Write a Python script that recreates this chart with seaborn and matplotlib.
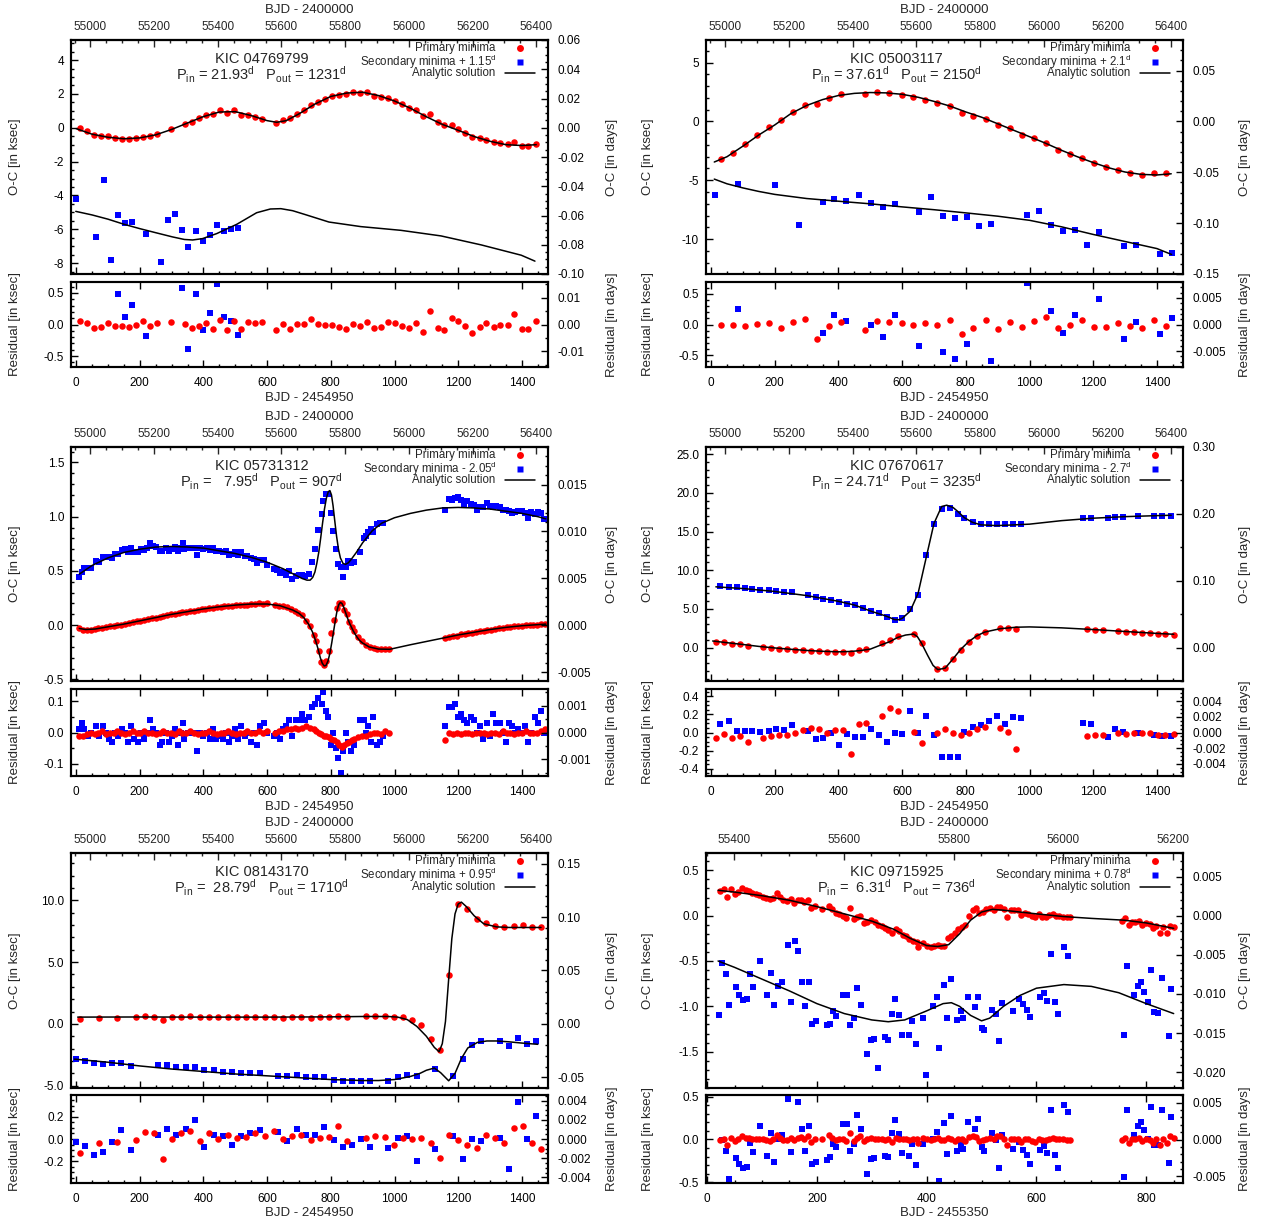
import numpy as np
import pandas as pd
import matplotlib
matplotlib.use("Agg")
import matplotlib.pyplot as plt
import seaborn as sns
from matplotlib.ticker import MultipleLocator, FuncFormatter, AutoMinorLocator

sns.set_theme(style="ticks")
plt.rcParams['font.family'] = ['Liberation Sans', 'DejaVu Sans']
plt.rcParams['mathtext.fontset'] = 'custom'
plt.rcParams['mathtext.rm'] = 'Liberation Sans'
plt.rcParams['mathtext.it'] = 'Liberation Sans:italic'
plt.rcParams['mathtext.bf'] = 'Liberation Sans:bold'
plt.rcParams['axes.unicode_minus'] = False

KSEC_PER_DAY = 86.4
RED = '#ff0000'
BLUE = '#0000ff'

# ---------------- KIC 04769799 ----------------
p1_prim_t = [13, 34, 57, 79, 101, 123, 145, 167, 189, 211,
             233, 255, 299, 342, 365, 386, 409, 430, 453, 474,
             497, 518, 541, 562, 585, 629, 650, 672, 694, 716,
             738, 760, 782, 804, 826, 848, 870, 892, 914, 936,
             958, 980, 1003, 1024, 1047, 1068, 1090, 1112, 1135, 1156,
             1179, 1200, 1222, 1244, 1267, 1288, 1311, 1332, 1355, 1376,
             1399, 1420, 1443]
p1_prim_oc = [0.0, -0.2, -0.41, -0.49, -0.51, -0.59, -0.67, -0.67, -0.63, -0.53,
              -0.51, -0.37, -0.1, 0.22, 0.33, 0.57, 0.76, 0.8, 1.02, 0.86,
              1.02, 0.75, 0.75, 0.61, 0.51, 0.29, 0.47, 0.57, 0.82, 1.04,
              1.35, 1.53, 1.71, 1.88, 1.94, 1.98, 2.1, 2.06, 2.1, 1.9,
              1.8, 1.73, 1.57, 1.39, 1.16, 1.06, 0.71, 0.84, 0.35, 0.14,
              0.16, -0.06, -0.29, -0.55, -0.61, -0.71, -0.82, -0.9, -0.98, -0.84,
              -1.1, -1.1, -0.94]
p1_prim_res = [0.05, 0.02, -0.05, -0.04, 0.02, -0.03, -0.03, -0.04, -0.01, 0.05,
               -0.02, 0.03, 0.04, 0.01, -0.06, -0.02, 0.03, -0.07, 0.07, -0.09,
               0.06, -0.07, 0.04, 0.03, 0.04, -0.09, 0.01, -0.07, 0.01, 0.01,
               0.08, 0.01, -0.01, -0.01, -0.04, -0.07, 0.01, -0.02, 0.04, -0.05,
               -0.04, 0.04, 0.02, -0.02, -0.06, 0.02, -0.12, 0.21, -0.06, -0.08,
               0.1, 0.05, -0.03, -0.13, -0.04, 0.02, -0.04, -0.01, 0.0, 0.16,
               -0.07, -0.07, 0.05]
p1_sec_t = [-1, 64, 87, 110, 131, 153, 175, 219, 267, 288,
            311, 332, 353, 376, 397, 420, 442, 464, 486, 507]
p1_sec_oc = [-4.18, -6.45, -3.1, -7.8, -5.16, -5.63, -5.57, -6.27, -7.92, -5.45,
             -5.1, -6.04, -7.04, -6.1, -6.69, -6.33, -5.75, -6.1, -5.98, -5.92]
p1_secres_t = [131, 153, 175, 219, 332, 353, 376, 397, 420, 442, 464, 486, 507]
p1_secres = [0.48, 0.12, 0.31, -0.18, 0.57, -0.39, 0.49, -0.09, 0.18, 0.64, 0.12, 0.05, -0.17]
p1_fitp_t = [0, 50, 100, 150, 200, 250, 300, 350, 400, 450, 500, 550, 600, 630, 660,
             700, 750, 800, 850, 900, 950, 1000, 1050, 1100, 1150, 1200, 1250, 1300,
             1350, 1400, 1445]
p1_fitp = [-0.05, -0.38, -0.56, -0.65, -0.6, -0.42, -0.1, 0.28, 0.66, 0.93, 0.95, 0.72,
           0.42, 0.32, 0.42, 0.82, 1.4, 1.85, 2.05, 2.1, 1.9, 1.58, 1.15, 0.65, 0.2,
           -0.15, -0.52, -0.8, -1.0, -1.05, -1.0]
p1_fits_t = [-1, 50, 100, 150, 200, 250, 303, 340, 366, 397, 442, 505, 567, 610, 643,
             680, 718, 794, 894, 1020, 1146, 1272, 1398, 1441]
p1_fits = [-4.94, -5.15, -5.4, -5.7, -5.96, -6.2, -6.45, -6.6, -6.63, -6.55, -6.25,
           -5.7, -5.02, -4.8, -4.78, -4.9, -5.12, -5.57, -5.84, -6.06, -6.39, -6.92,
           -7.53, -7.88]

# ---------------- KIC 05003117 ----------------
p2_prim_t = [32, 70, 108, 145, 182, 220, 258, 295, 333, 371,
             409, 484, 522, 560, 598, 635, 673, 711, 749, 787,
             824, 862, 900, 938, 975, 1013, 1051, 1089, 1127, 1164,
             1202, 1240, 1278, 1315, 1353, 1391, 1429]
p2_prim_oc = [-3.22, -2.66, -1.95, -1.19, -0.45, 0.14, 0.82, 1.41, 1.47, 1.98,
              2.29, 2.34, 2.49, 2.4, 2.26, 2.06, 1.84, 1.55, 1.33, 0.73,
              0.48, 0.23, -0.34, -0.59, -1.13, -1.44, -1.84, -2.46, -2.8, -3.11,
              -3.56, -3.9, -4.15, -4.35, -4.52, -4.41, -4.41]
p2_prim_res = [0.0, -0.01, -0.02, 0.01, 0.02, -0.05, 0.04, 0.09, -0.23, -0.03,
               0.04, -0.09, 0.05, 0.04, 0.02, -0.01, 0.02, 0.0, 0.08, -0.16,
               -0.05, 0.07, -0.08, 0.04, -0.04, 0.05, 0.12, -0.06, -0.01, 0.07,
               -0.04, -0.04, 0.02, -0.03, -0.05, 0.07, -0.02]
p2_sec_t = [11, 86, 200, 277, 350, 387, 425, 463, 502, 540,
            577, 653, 691, 729, 766, 803, 842, 880, 993, 1031,
            1067, 1105, 1143, 1181, 1218, 1297, 1333, 1409, 1446]
p2_sec_oc = [-6.27, -5.28, -5.42, -8.81, -6.81, -6.61, -6.78, -6.21, -6.95, -7.29,
             -7.03, -7.71, -6.44, -8.05, -8.22, -8.14, -8.9, -8.73, -7.97, -7.63,
             -8.76, -9.32, -9.21, -10.51, -9.41, -10.62, -10.48, -11.27, -11.19]
p2_secres_t = [86, 350, 387, 425, 502, 540, 577, 653, 729, 766, 803, 880, 993, 1067,
               1105, 1143, 1218, 1297, 1333, 1409, 1446]
p2_secres = [0.25, -0.14, 0.16, 0.05, -0.01, -0.21, 0.16, -0.35, -0.45, -0.56, -0.31,
             -0.59, 0.68, 0.22, -0.14, 0.16, 0.41, -0.24, 0.04, -0.15, 0.11]
p2_fitp_t = [10, 50, 100, 150, 200, 250, 300, 350, 400, 450, 500, 550, 600, 650, 700,
             750, 800, 850, 900, 950, 1000, 1050, 1100, 1150, 1200, 1250, 1300, 1350,
             1400, 1445]
p2_fitp = [-3.45, -3.0, -2.1, -1.15, -0.3, 0.65, 1.35, 1.85, 2.2, 2.38, 2.45, 2.42, 2.3,
           2.05, 1.7, 1.3, 0.8, 0.35, -0.2, -0.75, -1.3, -1.85, -2.45, -3.0, -3.5, -3.95,
           -4.3, -4.5, -4.55, -4.45]
p2_fits_t = [10, 50, 100, 150, 200, 300, 400, 500, 600, 700, 800, 900, 1000, 1100,
             1200, 1300, 1400, 1446]
p2_fits = [-4.9, -5.3, -5.65, -5.95, -6.2, -6.55, -6.78, -7.0, -7.26, -7.5, -7.77, -8.05,
           -8.4, -8.95, -9.6, -10.2, -10.8, -11.3]

# ---------------- KIC 05731312 ----------------
p3_prim_t = [10, 22, 34, 46, 58, 70, 82, 94, 106, 118,
             130, 142, 154, 166, 178, 190, 202, 214, 226, 238,
             250, 262, 274, 286, 298, 310, 322, 334, 346, 358,
             370, 382, 394, 406, 418, 430, 442, 454, 466, 478,
             490, 502, 514, 526, 538, 550, 562, 574, 586, 598,
             626, 638, 650, 662, 674, 686, 698, 710, 722, 734,
             746, 754, 762, 770, 778, 786, 794, 802, 810, 818,
             826, 834, 842, 850, 858, 866, 874, 886, 898, 910,
             922, 934, 946, 958, 970, 982,
             1160, 1172, 1184, 1196, 1208, 1220, 1232, 1244, 1256, 1268,
             1280, 1292, 1304, 1316, 1328, 1340, 1352, 1364, 1376, 1388,
             1400, 1412, 1424, 1436, 1448, 1460, 1472]
p3_prim_oc = [-0.03, -0.04, -0.04, -0.04, -0.035, -0.03, -0.025, -0.02, -0.01, -0.005,
              0.0, 0.005, 0.015, 0.02, 0.025, 0.035, 0.04, 0.05, 0.055, 0.065,
              0.07, 0.075, 0.085, 0.09, 0.1, 0.105, 0.11, 0.12, 0.125, 0.13,
              0.135, 0.14, 0.145, 0.15, 0.155, 0.16, 0.165, 0.17, 0.175, 0.18,
              0.18, 0.185, 0.19, 0.19, 0.19, 0.195, 0.195, 0.2, 0.195, 0.2,
              0.19, 0.18, 0.175, 0.165, 0.15, 0.13, 0.11, 0.09, 0.04, -0.01,
              -0.09, -0.15, -0.24, -0.34, -0.37, -0.33, -0.24, -0.07, 0.05, 0.16,
              0.2, 0.2, 0.14, 0.1, 0.03, -0.02, -0.05, -0.11, -0.15, -0.18,
              -0.2, -0.21, -0.215, -0.22, -0.22, -0.22,
              -0.12, -0.11, -0.1, -0.095, -0.085, -0.08, -0.075, -0.07, -0.06, -0.055,
              -0.05, -0.045, -0.04, -0.035, -0.03, -0.025, -0.02, -0.015, -0.01, -0.01,
              -0.005, 0.0, 0.0, 0.005, 0.005, 0.01, 0.015]
p3_prim_res = [-0.01, -0.01, -0.005, 0.0, -0.005, 0.0, 0.005, -0.005, 0.0, 0.0,
               0.005, 0.0, -0.005, 0.0, 0.005, 0.0, 0.0, 0.005, 0.0, 0.0,
               -0.005, 0.0, 0.005, 0.0, 0.0, -0.005, 0.005, 0.0, 0.0, 0.005,
               0.0, -0.005, 0.0, 0.0, 0.005, 0.0, -0.005, 0.0, 0.0, 0.005,
               0.0, -0.005, 0.0, 0.0, 0.005, 0.0, 0.0, 0.005, 0.0, 0.005,
               0.0, 0.005, 0.005, 0.01, 0.01, 0.015, 0.01, 0.015, 0.02, 0.015,
               0.01, 0.005, 0.0, -0.005, -0.01, -0.01, -0.015, -0.02, -0.025, -0.03,
               -0.04, -0.045, -0.04, -0.035, -0.03, -0.025, -0.02, -0.015, -0.01, -0.01,
               -0.005, 0.0, 0.0, -0.005, 0.005, 0.0,
               -0.025, 0.0, -0.005, 0.0, -0.005, 0.0, 0.0, -0.005, 0.0, 0.0,
               0.0, -0.005, 0.0, 0.0, -0.005, 0.005, 0.0, 0.0, -0.005, 0.0,
               0.0, 0.005, 0.0, 0.0, 0.0, 0.005, 0.01]
p3_sec_t = [9, 17, 25, 36, 46, 64, 72, 83, 93, 103,
            113, 123, 133, 143, 154, 163, 173, 183, 193, 203,
            212, 222, 231, 241, 251, 262, 270, 281, 291, 301,
            311, 320, 330, 337, 340, 350, 359, 370, 380, 390,
            400, 410, 419, 429, 439, 450, 460, 470, 479, 489,
            499, 509, 519, 530, 538, 549, 559, 569, 579, 589,
            599, 620, 630, 640, 650, 660, 670, 679, 690, 700,
            710, 720, 730, 740, 750, 761, 771, 775, 785, 790,
            800, 806, 817, 823, 833, 839, 849, 855, 863, 872,
            893, 903, 912, 918, 926, 933, 944, 954, 964,
            1159, 1170, 1180, 1190, 1200, 1210, 1219, 1229, 1239, 1250,
            1260, 1270, 1279, 1289, 1299, 1309, 1319, 1330, 1340, 1350,
            1359, 1369, 1379, 1389, 1399, 1409, 1419, 1430, 1440, 1450,
            1460, 1470]
p3_sec_oc = [0.44, 0.49, 0.53, 0.53, 0.53, 0.59, 0.58, 0.63, 0.63, 0.63,
             0.62, 0.66, 0.66, 0.69, 0.70, 0.67, 0.71, 0.67, 0.67, 0.70,
             0.69, 0.71, 0.76, 0.73, 0.72, 0.68, 0.68, 0.71, 0.68, 0.70,
             0.72, 0.68, 0.71, 0.76, 0.70, 0.71, 0.71, 0.71, 0.65, 0.71,
             0.70, 0.71, 0.69, 0.71, 0.68, 0.68, 0.67, 0.68, 0.65, 0.66,
             0.67, 0.65, 0.67, 0.64, 0.64, 0.62, 0.61, 0.57, 0.60, 0.60,
             0.55, 0.52, 0.51, 0.48, 0.49, 0.46, 0.50, 0.43, 0.45, 0.46,
             0.46, 0.45, 0.47, 0.58, 0.70, 0.88, 1.02, 1.14, 1.21, 1.21,
             1.03, 0.87, 0.70, 0.56, 0.54, 0.44, 0.54, 0.59, 0.57, 0.58,
             0.67, 0.80, 0.82, 0.86, 0.89, 0.86, 0.93, 0.94, 0.94,
             1.06, 1.16, 1.15, 1.17, 1.18, 1.15, 1.12, 1.14, 1.12, 1.11,
             1.06, 1.09, 1.09, 1.13, 1.10, 1.09, 1.10, 1.09, 1.06, 1.06,
             1.05, 1.03, 1.04, 1.05, 1.05, 1.03, 0.99, 1.04, 1.02, 1.04,
             1.03, 0.98]
p3_sec_res = [0.01, 0.03, 0.01, -0.01, 0.0, 0.02, -0.01, 0.02, 0.0, -0.02,
              -0.03, 0.0, -0.01, 0.01, 0.0, -0.03, 0.02, -0.02, -0.03, 0.0,
              -0.02, 0.0, 0.04, 0.01, 0.0, -0.04, -0.03, 0.0, -0.03, -0.01,
              0.01, -0.04, 0.0, 0.03, -0.02, 0.0, 0.0, 0.0, -0.06, 0.0,
              -0.01, 0.0, -0.02, 0.01, -0.02, -0.01, -0.02, 0.0, -0.03, -0.01,
              0.01, -0.02, 0.02, -0.01, 0.0, -0.03, 0.0, -0.04, 0.02, 0.03,
              0.0, -0.01, 0.0, -0.02, 0.01, 0.02, 0.04, -0.01, 0.04, 0.04,
              0.06, 0.04, 0.05, 0.08, 0.09, 0.11, 0.09, 0.13, 0.07, 0.05,
              -0.04, 0.0, -0.05, -0.08, -0.13, -0.06, 0.0, -0.03, -0.06, -0.04,
              0.04, 0.04, 0.0, 0.02, -0.03, 0.05, -0.04, -0.03, -0.01,
              0.02, 0.08, 0.08, 0.09, 0.05, 0.06, 0.04, 0.03, 0.05, 0.04,
              0.0, 0.02, -0.02, 0.03, -0.01, 0.06, 0.03, 0.03, 0.0, -0.03,
              0.03, 0.02, 0.0, 0.01, 0.0, 0.02, -0.03, 0.0, 0.05, 0.03,
              0.07, 0.0]
p3_fitp_t = [10, 30, 60, 100, 150, 200, 250, 300, 350, 400, 450, 500, 550, 600, 640,
             680, 700, 715, 730, 742, 752, 760, 767, 773, 779, 785, 791, 797, 803,
             809, 815, 820, 825, 830, 835, 840, 846, 853, 860, 870, 880, 890, 900,
             920, 950, 985, 1050, 1100, 1150, 1200, 1250, 1300, 1350, 1400, 1475]
p3_fitp = [-0.03, -0.04, -0.035, -0.015, 0.01, 0.04, 0.07, 0.1, 0.125, 0.15, 0.17, 0.185,
           0.195, 0.195, 0.18, 0.14, 0.11, 0.07, 0.01, -0.06, -0.14, -0.22, -0.3, -0.35,
           -0.375, -0.37, -0.33, -0.26, -0.16, -0.05, 0.06, 0.14, 0.19, 0.21, 0.2, 0.17,
           0.12, 0.06, 0.01, -0.05, -0.1, -0.14, -0.165, -0.2, -0.22, -0.222, -0.18,
           -0.15, -0.12, -0.09, -0.065, -0.04, -0.02, -0.005, 0.01]
p3_fits_t = [10, 50, 100, 150, 200, 250, 300, 350, 400, 450, 500, 550, 600, 650, 690,
             710, 725, 735, 743, 750, 756, 762, 768, 774, 780, 786, 792, 797, 802, 807,
             812, 818, 824, 830, 838, 846, 855, 865, 880, 900, 930, 960, 1000, 1050,
             1100, 1150, 1200, 1250, 1300, 1350, 1400, 1450, 1475]
p3_fits = [0.47, 0.55, 0.62, 0.67, 0.7, 0.72, 0.725, 0.72, 0.71, 0.685, 0.66, 0.625, 0.58,
           0.52, 0.46, 0.43, 0.415, 0.415, 0.44, 0.49, 0.57, 0.67, 0.8, 0.94, 1.07, 1.17,
           1.23, 1.24, 1.2, 1.1, 0.97, 0.82, 0.7, 0.62, 0.57, 0.56, 0.575, 0.61, 0.67,
           0.76, 0.87, 0.94, 0.99, 1.03, 1.06, 1.08, 1.085, 1.08, 1.07, 1.05, 1.03, 1.0,
           0.98]

# ---------------- KIC 07670617 ----------------
p4_prim_t = [14, 40, 65, 90, 115, 163, 188, 213, 239, 264,
             288, 313, 338, 363, 388, 413, 438, 463, 488, 536,
             561, 586, 636, 661, 710, 735, 759, 784, 809, 834,
             859, 908, 933, 958, 1180, 1205, 1230, 1278, 1303, 1328,
             1353, 1378, 1403, 1427, 1453]
p4_prim_oc = [0.77, 0.69, 0.47, 0.43, 0.26, 0.09, -0.04, -0.13, -0.17, -0.26,
              -0.34, -0.43, -0.47, -0.52, -0.56, -0.56, -0.73, -0.3, -0.17, 0.56,
              1.03, 1.55, 1.76, 0.56, -2.79, -2.62, -1.5, -0.26, 0.77, 1.55,
              2.06, 2.49, 2.58, 2.45, 2.36, 2.32, 2.28, 2.15, 2.06, 2.02,
              1.93, 1.89, 1.76, 1.76, 1.68]
p4_prim_res = [-0.06, -0.02, -0.065, -0.04, -0.1, -0.06, -0.04, -0.03, -0.025, -0.01,
               0.03, 0.05, 0.04, -0.01, 0.03, 0.03, -0.24, 0.09, 0.1, 0.18,
               0.27, 0.24, 0.01, -0.12, -0.01, 0.04, 0.0, -0.03, 0.0, 0.04,
               0.06, 0.05, 0.01, -0.18, -0.04, -0.03, -0.025, -0.01, -0.015, 0.0,
               -0.01, -0.01, -0.03, -0.03, -0.02]
p4_sec_t = [29, 55, 80, 105, 130, 155, 181, 205, 230, 254,
            303, 328, 353, 378, 403, 428, 453, 478, 502, 526,
            551, 576, 601, 625, 650, 676, 700, 724, 750, 775,
            795, 821, 847, 872, 897, 922, 948, 973, 1169, 1194,
            1245, 1270, 1295, 1342, 1392, 1417, 1443]
p4_sec_oc = [7.9, 7.86, 7.77, 7.65, 7.56, 7.39, 7.39, 7.26, 7.13, 7.13,
             6.74, 6.49, 6.31, 6.19, 5.84, 5.67, 5.46, 5.07, 4.77, 4.42,
             3.95, 3.61, 3.78, 4.94, 6.74, 11.9, 16.02, 17.96, 18.08, 17.31,
             16.8, 16.24, 15.94, 15.94, 15.94, 15.94, 16.02, 16.02, 16.8, 16.8,
             16.8, 16.92, 16.92, 17.05, 17.05, 17.05, 17.05]
p4_sec_res = [0.09, 0.13, 0.02, 0.02, 0.02, 0.01, 0.02, 0.04, 0.03, 0.08,
              0.02, -0.07, -0.06, -0.01, -0.14, -0.02, -0.05, -0.05, 0.04, -0.03,
              -0.1, -0.01, -0.02, 0.24, 0.0, 0.18, -0.03, -0.27, -0.27, -0.27,
              0.01, 0.06, 0.08, 0.13, 0.18, 0.09, 0.17, 0.16, 0.1, 0.09,
              -0.05, 0.04, 0.01, 0.0, -0.03, -0.04, -0.04]
p4_fitp_t = [5, 50, 100, 150, 200, 250, 300, 350, 400, 440, 470, 500, 536, 561, 586,
             611, 636, 648, 661, 680, 697, 712, 735, 759, 784, 809, 834, 859, 908, 958,
             1000, 1100, 1200, 1300, 1400, 1453]
p4_fitp = [0.85, 0.63, 0.4, 0.15, -0.05, -0.22, -0.37, -0.48, -0.55, -0.5, -0.38, -0.2,
           0.38, 0.76, 1.31, 1.62, 1.75, 1.4, 0.55, -1.0, -2.3, -2.85, -2.66, -1.5,
           -0.23, 0.77, 1.51, 2.0, 2.44, 2.63, 2.67, 2.55, 2.33, 2.08, 1.83, 1.72]
p4_fits_t = [15, 100, 200, 300, 400, 450, 500, 551, 576, 590, 601, 625, 650, 676, 700,
             724, 740, 760, 775, 795, 821, 847, 897, 948, 1000, 1100, 1200, 1300, 1400,
             1445]
p4_fits = [7.85, 7.63, 7.25, 6.72, 5.98, 5.5, 4.73, 4.05, 3.62, 3.6, 3.8, 4.7, 7.0, 11.72,
           16.05, 18.23, 18.4, 18.1, 17.58, 16.79, 16.18, 15.86, 15.76, 15.85, 15.95,
           16.4, 16.72, 16.92, 17.05, 17.1]

# ---------------- KIC 08143170 ----------------
p5_prim_t = [13, 71, 128, 187, 215, 244, 273, 302, 331, 359,
             389, 418, 447, 476, 504, 533, 562, 592, 621, 649,
             678, 707, 737, 766, 795, 824, 852, 910, 940, 969,
             998, 1026, 1055, 1084, 1114, 1142, 1171, 1200, 1229, 1258,
             1288, 1317, 1345, 1374, 1403, 1432, 1460]
p5_prim_oc = [0.41, 0.51, 0.51, 0.57, 0.62, 0.59, 0.35, 0.57, 0.59, 0.62,
              0.54, 0.57, 0.54, 0.57, 0.54, 0.54, 0.54, 0.54, 0.57, 0.51,
              0.54, 0.54, 0.51, 0.54, 0.57, 0.68, 0.54, 0.62, 0.65, 0.65,
              0.59, 0.54, 0.35, -0.11, -1.19, -2.14, 3.95, 9.7, 9.3, 8.46,
              8.16, 7.95, 7.84, 7.95, 7.97, 7.86, 7.84]
p5_prim_res = [-0.13, -0.04, -0.03, -0.01, 0.06, 0.05, -0.18, 0.0, 0.05, 0.07,
               -0.02, 0.05, 0.0, 0.04, 0.01, 0.02, 0.05, 0.03, 0.07, 0.0,
               0.03, 0.04, -0.01, 0.01, 0.02, 0.12, -0.02, 0.01, 0.03, 0.02,
               -0.05, 0.01, 0.0, 0.01, -0.04, -0.17, 0.04, -0.01, -0.05, -0.08,
               0.04, 0.01, -0.04, 0.1, 0.12, -0.04, -0.09]
p5_sec_t = [-1, 27, 56, 84, 113, 141, 173, 257, 286, 315,
            344, 373, 403, 432, 461, 489, 519, 547, 578, 634,
            663, 693, 721, 750, 780, 809, 837, 865, 895, 924,
            980, 1011, 1039, 1070, 1128, 1185, 1214, 1242, 1273, 1330,
            1358, 1387, 1417, 1445]
p5_sec_oc = [-2.86, -2.97, -3.14, -3.22, -3.14, -3.14, -3.38, -3.35, -3.35, -3.51,
             -3.51, -3.51, -3.76, -3.76, -3.86, -3.92, -3.95, -4.0, -4.0, -4.19,
             -4.24, -4.16, -4.32, -4.32, -4.32, -4.51, -4.59, -4.59, -4.59, -4.59,
             -4.59, -4.32, -4.14, -4.19, -3.68, -4.24, -2.86, -1.73, -1.41, -1.41,
             -1.76, -1.16, -1.59, -1.41]
p5_sec_res = [-0.03, -0.06, -0.14, -0.12, -0.03, 0.08, -0.1, 0.04, 0.09, 0.04,
              0.09, 0.17, -0.07, 0.04, 0.03, -0.05, 0.03, 0.05, 0.08, 0.06,
              -0.02, 0.09, 0.04, 0.04, 0.11, -0.01, -0.07, -0.05, 0.0, -0.07,
              -0.08, 0.01, 0.03, -0.2, -0.09, 0.03, -0.18, 0.0, -0.02, 0.01,
              -0.27, 0.33, 0.0, 0.21]
p5_fitp_t = [5, 200, 400, 600, 800, 900, 980, 1010, 1040, 1070, 1100, 1125, 1140, 1150,
             1160, 1170, 1180, 1190, 1200, 1210, 1225, 1250, 1280, 1320, 1360, 1460]
p5_fitp = [0.55, 0.56, 0.55, 0.55, 0.57, 0.6, 0.6, 0.55, 0.35, -0.2, -1.0, -1.9, -2.25,
           -1.6, 0.2, 3.6, 6.9, 8.9, 9.7, 9.85, 9.5, 8.75, 8.1, 7.85, 7.8, 7.8]
p5_fits_t = [-5, 100, 200, 300, 400, 500, 600, 700, 800, 900, 950, 1000, 1050, 1080,
             1100, 1125, 1145, 1170, 1190, 1210, 1230, 1260, 1290, 1320, 1360, 1400, 1450]
p5_fits = [-2.85, -3.1, -3.4, -3.65, -3.85, -4.05, -4.2, -4.35, -4.5, -4.58, -4.58, -4.5,
           -4.25, -4.0, -3.75, -3.57, -3.95, -4.6, -4.0, -2.8, -1.95, -1.5, -1.38, -1.38,
           -1.45, -1.55, -1.65]

# ---------------- KIC 09715925 ----------------
p6_prim_t = [24, 31, 37, 44, 51, 56, 63, 70, 76, 82,
             89, 95, 102, 108, 114, 120, 127, 133, 139, 146,
             152, 158, 165, 171, 177, 184, 190, 196, 209, 222,
             228, 234, 241, 248, 253, 260, 267, 273, 279, 286,
             292, 298, 305, 311, 318, 324, 330, 337, 344, 349,
             356, 363, 368, 375, 382, 385, 394, 401, 407, 413,
             420, 426, 432, 439, 445, 451, 458, 464, 470, 477,
             484, 490, 496, 503, 509, 515, 522, 528, 534, 541,
             547, 553, 560, 566, 572, 579, 585, 591, 598, 604,
             611, 617, 623, 630, 636, 642, 649, 655, 662,
             755, 761, 768, 774, 780, 787, 793, 799, 806, 812,
             818, 825, 831, 838, 844, 851]
p6_prim_oc = [0.27, 0.29, 0.21, 0.29, 0.24, 0.26, 0.30, 0.28, 0.27, 0.25,
              0.24, 0.23, 0.21, 0.20, 0.18, 0.19, 0.25, 0.21, 0.17, 0.16,
              0.18, 0.14, 0.17, 0.17, 0.15, 0.17, 0.08, 0.11, 0.07, 0.11,
              0.07, 0.03, 0.02, 0.00, -0.03, 0.08, -0.04, -0.02, 0.00, -0.08,
              -0.07, -0.05, -0.07, -0.10, -0.11, -0.14, -0.16, -0.19, -0.15, -0.17,
              -0.21, -0.22, -0.26, -0.28, -0.29, -0.35, -0.30, -0.33, -0.35, -0.33,
              -0.32, -0.34, -0.34, -0.25, -0.22, -0.19, -0.15, -0.13, -0.10, 0.00,
              0.06, 0.08, 0.03, 0.04, 0.07, 0.08, 0.06, 0.10, 0.10, 0.07,
              -0.01, 0.06, 0.06, 0.06, 0.01, 0.03, 0.02, 0.00, -0.02, 0.02,
              -0.01, -0.01, 0.01, 0.02, 0.00, 0.00, -0.01, -0.02, -0.02,
              -0.06, -0.03, -0.10, -0.07, -0.07, -0.06, -0.10, -0.08, -0.09, -0.14,
              -0.11, -0.19, -0.13, -0.19, -0.11, -0.12]
p6_prim_res = [-0.01, 0.01, -0.06, 0.02, -0.02, 0.0, 0.04, 0.02, 0.02, 0.0,
               0.0, 0.0, 0.0, -0.01, -0.02, 0.0, 0.05, 0.02, -0.01, -0.01,
               0.02, -0.01, 0.02, 0.03, 0.01, 0.04, -0.03, 0.0, 0.0, 0.05,
               0.02, -0.01, 0.0, 0.0, -0.02, 0.07, -0.02, 0.02, 0.04, -0.02,
               0.0, 0.02, 0.01, 0.0, 0.0, -0.01, 0.0, -0.03, 0.02, 0.01,
               0.0, 0.01, -0.01, 0.0, 0.01, -0.04, 0.02, 0.0, -0.01, 0.01,
               0.02, -0.01, -0.01, 0.02, 0.0, -0.02, 0.01, 0.0, -0.02, 0.03,
               0.04, 0.03, -0.02, -0.01, 0.01, 0.02, 0.0, 0.04, 0.04, 0.01,
               -0.06, 0.01, 0.01, 0.01, -0.03, 0.0, 0.0, -0.02, -0.03, 0.01,
               -0.01, -0.01, 0.01, 0.02, 0.0, 0.01, 0.0, -0.01, -0.01,
               -0.01, 0.02, -0.04, 0.0, 0.01, 0.02, -0.02, 0.0, -0.01, -0.04,
               0.0, -0.07, 0.01, -0.04, 0.04, 0.02]
p6_sec_t = [22, 28, 34, 40, 53, 59, 66, 72, 78, 84,
            96, 109, 116, 122, 130, 136, 148, 153, 160, 166,
            172, 179, 185, 191, 198, 218, 223, 229, 235, 248,
            255, 261, 267, 273, 281, 292, 298, 304, 311, 324,
            330, 336, 342, 349, 355, 367, 374, 380, 393, 399,
            411, 418, 423, 431, 437, 444, 456, 462, 467, 475,
            488, 494, 500, 505, 519, 526, 532, 538, 557, 569,
            576, 582, 588, 607, 614, 620, 626, 633, 640, 651,
            657, 760, 765, 777, 785, 791, 796, 803, 809, 815,
            821, 829, 841, 846]
p6_sec_oc = [-1.10, -0.52, -0.64, -0.99, -0.79, -0.87, -0.93, -0.92, -0.64, -0.79,
             -0.50, -0.88, -0.63, -0.99, -0.78, -0.73, -0.32, -0.95, -0.28, -0.39,
             -0.73, -1.00, -0.73, -1.19, -1.16, -1.21, -1.19, -1.05, -1.11, -0.87,
             -0.88, -1.21, -1.13, -0.80, -0.99, -1.53, -1.37, -1.36, -1.68, -1.34,
             -1.37, -1.09, -0.92, -1.10, -1.32, -1.32, -1.16, -1.41, -1.13, -1.76,
             -1.00, -0.90, -1.46, -0.77, -1.13, -0.70, -1.15, -1.05, -1.13, -0.90,
             -1.01, -0.90, -1.24, -1.26, -1.04, -1.09, -1.38, -0.96, -1.05, -0.92,
             -0.97, -1.04, -1.12, -0.90, -0.85, -0.94, -0.42, -0.95, -1.08, -0.35,
             -0.44, -1.32, -0.55, -0.88, -0.78, -0.73, -0.84, -0.95, -0.60, -1.06,
             -1.07, -0.69, -1.33, -0.81]
p6_sec_res = [-0.60, -0.01, -0.13, -0.46, -0.22, -0.29, -0.34, -0.32, -0.04, -0.15,
              0.16, -0.19, 0.08, -0.26, 0.0, 0.05, 0.47, -0.15, 0.57, 0.44,
              0.12, -0.13, 0.16, -0.29, -0.26, -0.24, -0.21, -0.05, -0.09, 0.18,
              0.18, -0.14, -0.05, 0.29, 0.12, -0.41, -0.23, -0.22, -0.53, -0.19,
              -0.21, 0.07, 0.23, 0.06, -0.16, -0.19, -0.05, -0.30, -0.05, -0.70,
              0.01, 0.09, -0.49, 0.19, -0.17, 0.27, -0.14, -0.06, -0.11, 0.20,
              0.12, 0.24, -0.09, -0.13, 0.07, -0.01, -0.33, 0.05, -0.11, -0.03,
              -0.12, -0.18, -0.29, -0.12, -0.08, -0.16, 0.34, -0.18, -0.33, 0.40,
              0.32, -0.44, 0.34, 0.05, 0.16, 0.20, 0.11, 0.01, 0.38, -0.07,
              -0.07, 0.34, -0.28, 0.26]
p6_fitp_t = [20, 50, 100, 150, 200, 250, 300, 340, 370, 400, 420, 440, 460, 480, 500,
             520, 540, 600, 650, 700, 760, 800, 850]
p6_fitp = [0.28, 0.26, 0.22, 0.17, 0.1, 0.02, -0.06, -0.15, -0.25, -0.33, -0.34, -0.32,
           -0.2, -0.05, 0.04, 0.07, 0.06, 0.02, -0.01, -0.03, -0.05, -0.08, -0.14]
p6_fits_t = [20, 50, 100, 150, 200, 250, 300, 330, 360, 400, 430, 445, 460, 480, 500,
             515, 540, 570, 600, 650, 700, 750, 800, 850]
p6_fits = [-0.5, -0.57, -0.7, -0.83, -0.97, -1.08, -1.15, -1.17, -1.15, -1.05, -0.97,
           -0.96, -1.0, -1.1, -1.16, -1.13, -1.0, -0.88, -0.8, -0.76, -0.78, -0.85,
           -0.97, -1.08]

# ---------------- panel settings ----------------
names = ['KIC 04769799', 'KIC 05003117', 'KIC 05731312',
         'KIC 07670617', 'KIC 08143170', 'KIC 09715925']
p_in = ['21.93', '37.61', '  7.95', '24.71', ' 28.79', ' 6.31']
p_out = ['1231', '2150', '907', '3235', '1710', '736']
sec_shift = ['+ 1.15', '+ 2.1', '- 2.05', '- 2.7', '+ 0.95', '+ 0.78']
epochs = ['2454950', '2454950', '2454950', '2454950', '2454950', '2455350']

W, H = 1261, 1224
COLS = [(71, 548), (706, 1183)]
ROWS = [((40, 274), (282, 367)), ((447, 681), (689, 776)), ((853, 1088), (1095, 1183))]

panels = [
    dict(pt=p1_prim_t, poc=p1_prim_oc, pres=p1_prim_res, st=p1_sec_t, soc=p1_sec_oc,
         srt=p1_secres_t, sres=p1_secres, fpt=p1_fitp_t, fp=p1_fitp, fst=p1_fits_t, fs=p1_fits,
         xlim=(-16, 1482), xstep=200, top_off=54955, top_step=200,
         days=(-0.10, 0.06), ystep=2, yfmt='%d', dstep=0.02, dfmt='%.2f',
         rlim=(-0.672, 0.672), rstep=0.5, rfmt='%.1f', rdlim=(-0.0159, 0.0159), rdstep=0.01, rdfmt='%.2f'),
    dict(pt=p2_prim_t, poc=p2_prim_oc, pres=p2_prim_res, st=p2_sec_t, soc=p2_sec_oc,
         srt=p2_secres_t, sres=p2_secres, fpt=p2_fitp_t, fp=p2_fitp, fst=p2_fits_t, fs=p2_fits,
         xlim=(-16, 1482), xstep=200, top_off=54955, top_step=200,
         days=(-0.15, 0.08), ystep=5, yfmt='%d', dstep=0.05, dfmt='%.2f',
         rlim=(-0.69, 0.69), rstep=0.5, rfmt='%.1f', rdlim=(-0.008, 0.008), rdstep=0.005, rdfmt='%.3f'),
    dict(pt=p3_prim_t, poc=p3_prim_oc, pres=p3_prim_res, st=p3_sec_t, soc=p3_sec_oc,
         srt=p3_sec_t, sres=p3_sec_res, fpt=p3_fitp_t, fp=p3_fitp, fst=p3_fits_t, fs=p3_fits,
         xlim=(-16, 1482), xstep=200, top_off=54955, top_step=200,
         days=(-0.00595, 0.019), ystep=0.5, yfmt='%.1f', dstep=0.005, dfmt='%.3f',
         rlim=(-0.139, 0.139), rstep=0.1, rfmt='%.1f', rdlim=(-0.00163, 0.00163), rdstep=0.001, rdfmt='%.3f'),
    dict(pt=p4_prim_t, poc=p4_prim_oc, pres=p4_prim_res, st=p4_sec_t, soc=p4_sec_oc,
         srt=p4_sec_t, sres=p4_sec_res, fpt=p4_fitp_t, fp=p4_fitp, fst=p4_fits_t, fs=p4_fits,
         xlim=(-16, 1482), xstep=200, top_off=54955, top_step=200,
         days=(-0.05, 0.30), ystep=5, yfmt='%.1f', dstep=0.1, dfmt='%.2f',
         rlim=(-0.478, 0.478), rstep=0.2, rfmt='%.1f', rdlim=(-0.00554, 0.00554), rdstep=0.002, rdfmt='%.3f'),
    dict(pt=p5_prim_t, poc=p5_prim_oc, pres=p5_prim_res, st=p5_sec_t, soc=p5_sec_oc,
         srt=p5_sec_t, sres=p5_sec_res, fpt=p5_fitp_t, fp=p5_fitp, fst=p5_fits_t, fs=p5_fits,
         xlim=(-16, 1482), xstep=200, top_off=54955, top_step=200,
         days=(-0.06, 0.16), ystep=5, yfmt='%.1f', dstep=0.05, dfmt='%.2f',
         rlim=(-0.396, 0.396), rstep=0.2, rfmt='%.1f', rdlim=(-0.00458, 0.00458), rdstep=0.002, rdfmt='%.3f'),
    dict(pt=p6_prim_t, poc=p6_prim_oc, pres=p6_prim_res, st=p6_sec_t, soc=p6_sec_oc,
         srt=p6_sec_t, sres=p6_sec_res, fpt=p6_fitp_t, fp=p6_fitp, fst=p6_fits_t, fs=p6_fits,
         xlim=(-2, 867), xstep=200, top_off=55351, top_step=200,
         days=(-0.022, 0.008), ystep=0.5, yfmt='%.1f', dstep=0.005, dfmt='%.3f',
         rlim=(-0.51, 0.52), rstep=0.5, rfmt='%.1f', rdlim=(-0.0059, 0.00604), rdstep=0.005, rdfmt='%.3f'),
]

TICK_FS = 8.5
LABEL_FS = 9.5
DOT_S = 22
SQ_S = 15


def rect(x0, x1, y0, y1):
    return [x0 / W, 1 - y1 / H, (x1 - x0) / W, (y1 - y0) / H]


def n_minor(step):
    m = round(step / 10 ** np.floor(np.log10(step)), 3)
    if m == 2:
        return 4
    if m == 5:
        return 5
    return 2


def tick_fmt(fmt):
    def f(v, pos):
        v = round(v, 9)
        if abs(v) < 1e-12:
            v = 0.0
        return fmt % v
    return FuncFormatter(f)


def style(ax):
    for s in ax.spines.values():
        s.set_linewidth(1.5)
        s.set_color('black')
    ax.tick_params(which='both', direction='in', colors='black', labelsize=TICK_FS, width=1.0)
    ax.tick_params(which='major', length=5)
    ax.tick_params(which='minor', length=2.5)


def yaxis_setup(ax, step, fmt, pad):
    ax.yaxis.set_major_locator(MultipleLocator(step))
    ax.yaxis.set_minor_locator(AutoMinorLocator(n_minor(step)))
    ax.yaxis.set_major_formatter(tick_fmt(fmt))
    ax.tick_params(axis='y', pad=pad)


fig = plt.figure(figsize=(W / 100, H / 100), dpi=100)

for i, p in enumerate(panels):
    row, col = divmod(i, 2)
    x0, x1 = COLS[col]
    (mt, mb), (rt, rb) = ROWS[row]
    axm = fig.add_axes(rect(x0, x1, mt, mb))
    axr = fig.add_axes(rect(x0, x1, rt, rb))

    prim = pd.DataFrame({'t': p['pt'], 'oc': p['poc'], 'res': p['pres']})
    sec = pd.DataFrame({'t': p['st'], 'oc': p['soc']})
    secr = pd.DataFrame({'t': p['srt'], 'res': p['sres']})
    fitp = pd.DataFrame({'t': p['fpt'], 'oc': p['fp']})
    fits = pd.DataFrame({'t': p['fst'], 'oc': p['fs']})

    # O-C diagram
    sns.scatterplot(data=sec, x='t', y='oc', ax=axm, marker='s', color=BLUE, s=SQ_S,
                    linewidth=0, legend=False, zorder=2)
    sns.scatterplot(data=prim, x='t', y='oc', ax=axm, marker='o', color=RED, s=DOT_S,
                    linewidth=0, legend=False, zorder=3)
    sns.lineplot(data=fitp, x='t', y='oc', ax=axm, color='black', linewidth=1.1,
                 estimator=None, sort=False, legend=False, zorder=4)
    sns.lineplot(data=fits, x='t', y='oc', ax=axm, color='black', linewidth=1.1,
                 estimator=None, sort=False, legend=False, zorder=4)

    # residuals
    sns.scatterplot(data=secr, x='t', y='res', ax=axr, marker='s', color=BLUE, s=SQ_S,
                    linewidth=0, legend=False, zorder=2)
    sns.scatterplot(data=prim, x='t', y='res', ax=axr, marker='o', color=RED, s=DOT_S,
                    linewidth=0, legend=False, zorder=3)

    for ax in (axm, axr):
        ax.set_xlim(*p['xlim'])
        ax.set_xlabel('')
        ax.set_ylabel('')
        ax.xaxis.set_major_locator(MultipleLocator(p['xstep']))
        ax.xaxis.set_minor_locator(AutoMinorLocator(4))
        ax.xaxis.set_major_formatter(tick_fmt('%d'))
        style(ax)

    d0, d1 = p['days']
    axm.set_ylim(d0 * KSEC_PER_DAY, d1 * KSEC_PER_DAY)
    yaxis_setup(axm, p['ystep'], p['yfmt'], 5)
    axm.tick_params(axis='x', bottom=True, top=False, labelbottom=False)
    axm.tick_params(axis='y', left=True, right=False)

    axm2 = axm.twinx()
    axm2.set_ylim(d0, d1)
    style(axm2)
    yaxis_setup(axm2, p['dstep'], p['dfmt'], 7)
    axm2.tick_params(axis='y', left=False, right=True, labelright=True)

    off = p['top_off']
    top = axm.secondary_xaxis('top', functions=(lambda x, o=off: x + o, lambda x, o=off: x - o))
    top.xaxis.set_major_locator(MultipleLocator(p['top_step']))
    top.xaxis.set_minor_locator(AutoMinorLocator(4))
    top.xaxis.set_major_formatter(tick_fmt('%d'))
    top.tick_params(which='both', direction='in', labelsize=TICK_FS, width=1.0, pad=5)
    top.tick_params(which='major', length=5)
    top.tick_params(which='minor', length=2.5)
    top.spines['top'].set_linewidth(1.5)

    axr.set_ylim(*p['rlim'])
    yaxis_setup(axr, p['rstep'], p['rfmt'], 5)
    axr.tick_params(axis='x', bottom=True, top=True, labelbottom=True, labeltop=False, pad=7)
    axr.tick_params(axis='y', left=True, right=False)

    axr2 = axr.twinx()
    axr2.set_ylim(*p['rdlim'])
    style(axr2)
    yaxis_setup(axr2, p['rdstep'], p['rdfmt'], 7)
    axr2.tick_params(axis='y', left=False, right=True, labelright=True)

    # star name, periods and key
    axm.text(0.40, 0.919, names[i], transform=axm.transAxes, ha='center', va='center',
             fontsize=10.5)
    axm.text(0.40, 0.852,
             r'P$_{\rm in}$ = ' + p_in[i] + r'$^{\rm d}$   P$_{\rm out}$ = ' + p_out[i] + r'$^{\rm d}$',
             transform=axm.transAxes, ha='center', va='center', fontsize=10.5)
    ky = [0.966, 0.908, 0.857]
    axm.text(0.889, ky[0], 'Primary minima', transform=axm.transAxes, ha='right',
             va='center', fontsize=8.3)
    axm.text(0.893, ky[1], 'Secondary minima ' + sec_shift[i] + r'$^{\rm d}$',
             transform=axm.transAxes, ha='right', va='center', fontsize=8.3)
    axm.text(0.889, ky[2], 'Analytic solution', transform=axm.transAxes, ha='right',
             va='center', fontsize=8.3)
    axm.plot([0.941], [ky[0]], 'o', color=RED, ms=5.0, mec='none', transform=axm.transAxes)
    axm.plot([0.941], [ky[1]], 's', color=BLUE, ms=3.8, mec='none', transform=axm.transAxes)
    axm.plot([0.910, 0.973], [ky[2], ky[2]], color='black', lw=1.1, transform=axm.transAxes)

    # axis titles
    xc = (x0 + x1) / 2
    lx, rx = (15, 612) if col == 0 else (648, 1245)
    fig.text(xc / W, 1 - (mt - 30) / H, 'BJD - 2400000', ha='center', va='center',
             fontsize=LABEL_FS)
    fig.text(xc / W, 1 - (rb + 31 if row < 2 else rb + 30) / H, 'BJD - ' + epochs[i],
             ha='center', va='center', fontsize=LABEL_FS)
    fig.text(lx / W, 1 - (mt + mb) / 2 / H, 'O-C [in ksec]', rotation=90, ha='center',
             va='center', fontsize=LABEL_FS)
    fig.text(rx / W, 1 - (mt + mb) / 2 / H, 'O-C [in days]', rotation=90, ha='center',
             va='center', fontsize=LABEL_FS)
    fig.text(lx / W, 1 - (rt + rb) / 2 / H, 'Residual [in ksec]', rotation=90, ha='center',
             va='center', fontsize=LABEL_FS)
    fig.text(rx / W, 1 - (rt + rb) / 2 / H, 'Residual [in days]', rotation=90, ha='center',
             va='center', fontsize=LABEL_FS)

fig.savefig('out.png', dpi=100, facecolor='white')
